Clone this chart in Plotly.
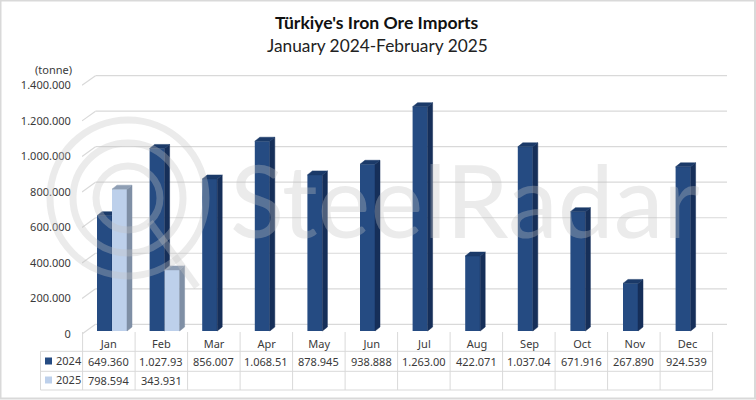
import plotly.graph_objects as go

# ---- data ----
months = ["Jan", "Feb", "Mar", "Apr", "May", "Jun", "Jul", "Aug", "Sep", "Oct", "Nov", "Dec"]
values_2024 = [649360, 1027930, 856007, 1068510, 878945, 938888, 1263000, 422071, 1037040, 671916, 267890, 924539]
values_2025 = [798594, 343931]
labels_2024 = ["649.360", "1.027.93", "856.007", "1.068.51", "878.945", "938.888", "1.263.00", "422.071", "1.037.04", "671.916", "267.890", "924.539"]
labels_2025 = ["798.594", "343.931"]
tick_values = [0, 200000, 400000, 600000, 800000, 1000000, 1200000, 1400000]
tick_labels = ["0", "200.000", "400.000", "600.000", "800.000", "1.000.000", "1.200.000", "1.400.000"]
title_main = "Türkiye's Iron Ore Imports"
title_sub = "January 2024-February 2025"
unit_label = "(tonne)"
watermark = "SteelRadar"

# ---- geometry / style ----
W, H = 756, 400
L, R, T, B = 82, 730, 60, 334          # plot rectangle in pixels
PX_X = 52.6                            # pixels per category
PX_Y = 177.6 / 1e6                     # pixels per tonne
X0 = -0.5 - 0.5 / PX_X
X1 = X0 + (R - L) / PX_X
Y1 = (B - T) / PX_Y
dx = lambda p: p / PX_X
dy = lambda p: p / PX_Y
BAR_W = dx(15)
BAR_OFF = dx(-11.8)
LIFT = dy(3)
WALL_X, WALL_Y = dx(13.5), dy(9.7)
WALL_END = X0 + (727 - L) / PX_X
DEPTH_X, DEPTH_Y = dx(5), dy(4)
GRID = "#D9D9D9"
TXT = "#3A3A3A"
FONT = "Noto Sans"
WM = "rgba(194,194,194,0.335)"
py = lambda v: (B - v) / (B - T)
pxx = lambda v: (v - L) / (R - L)


def add_bars(fig, name, values, start, front, side, top, xa, ya):
    sx, sy, tx, ty, xs = [], [], [], [], []
    for i, v in enumerate(values):
        a = i + BAR_OFF + start * BAR_W
        b = a + BAR_W
        xs.append(a + BAR_W / 2)
        sx += [b, b + DEPTH_X, b + DEPTH_X, b, b, None]
        sy += [v + LIFT, v + LIFT + DEPTH_Y, LIFT + DEPTH_Y, LIFT, v + LIFT, None]
        tx += [a, a + DEPTH_X, b + DEPTH_X, b, a, None]
        ty += [v + LIFT, v + LIFT + DEPTH_Y, v + LIFT + DEPTH_Y, v + LIFT, v + LIFT, None]
    for px_, py_, col in ((sx, sy, side), (tx, ty, top)):
        fig.add_trace(go.Scatter(x=px_, y=py_, mode="lines", fill="toself", fillcolor=col,
                                 line=dict(width=0.5, color=col, simplify=False), hoverinfo="skip",
                                 showlegend=False, xaxis=xa, yaxis=ya))
    fig.add_trace(go.Bar(x=xs, y=values, base=LIFT, width=BAR_W, name=name, xaxis=xa, yaxis=ya,
                         marker=dict(color=front, line=dict(width=0)), showlegend=False))


fig = go.Figure()
add_bars(fig, "2024", values_2024, 0, "#254B82", "#162F59", "#1B3A69", "x", "y")
add_bars(fig, "2025", values_2025, 1, "#BDD0EB", "#7F8FA5", "#8E9EB4", "x2", "y2")

shapes, annots = [], []

# back wall grid lines and floor/wall diagonals, from the tick values
for t in tick_values:
    for x0, y0, x1, y1 in ((X0, t, X0 + WALL_X, t + WALL_Y), (X0 + WALL_X, t + WALL_Y, WALL_END, t + WALL_Y)):
        shapes.append(dict(type="line", xref="x", yref="y", x0=x0, y0=y0, x1=x1, y1=y1,
                           line=dict(color=GRID, width=1.2), layer="below"))


def line(x0, y0, x1, y1):
    shapes.append(dict(type="line", xref="paper", yref="paper", x0=pxx(x0), x1=pxx(x1),
                       y0=py(y0), y1=py(y1), line=dict(color=GRID, width=1), layer="below"))


def text(x, y, s, size=11, anchor="center", color=TXT, family=FONT, **kw):
    annots.append(dict(xref="paper", yref="paper", x=pxx(x), y=py(y), text=s, showarrow=False,
                       xanchor=anchor, yanchor="middle",
                       font=dict(size=size, color=color, family=family, **kw)))


# data table under the plot
col_w = 52.5
left = 82.6
n = len(months)
for i in range(n + 1):
    line(left + i * col_w, 332, left + i * col_w, 390)
line(40.5, 351.3, 40.5, 390)
for y in (351.3, 371.3, 390):
    line(40.5, y, left + n * col_w, y)
for i, s in enumerate(labels_2024):
    text(left + (i + 0.5) * col_w, 361.3, s)
for i, s in enumerate(labels_2025):
    text(left + (i + 0.5) * col_w, 380.3, s)
text(54, 360.5, "2024", anchor="left")
text(54, 379.5, "2025", anchor="left")
for y, c in ((361, "#254B82"), (380, "#BDD0EB")):
    shapes.append(dict(type="rect", xref="paper", yref="paper", x0=pxx(45), x1=pxx(52),
                       y0=py(y - 3.5), y1=py(y + 3.5), fillcolor=c, line=dict(width=0)))

# titles and unit
text(377, 22, title_main, size=17.6, family="Lato", color="#111111", weight="bold")
text(377, 45, title_sub, size=17.3, family="Lato", color="#222222")
text(53.5, 70, unit_label, size=11)

# watermark
for cx, cy, r in ((128, 198, 78), (128, 198, 55), (128, 198, 32)):
    shapes.append(dict(type="circle", xref="paper", yref="paper", x0=pxx(cx - r), x1=pxx(cx + r),
                       y0=py(cy - r), y1=py(cy + r), line=dict(color=WM, width=7), layer="above"))
shapes.append(dict(type="line", xref="paper", yref="paper", x0=pxx(150), y0=py(222), x1=pxx(197), y1=py(287),
                   line=dict(color=WM, width=7), layer="above"))
text(465, 199, watermark, size=100, family="Lato", color=WM, weight=400)

# outer frame
shapes.append(dict(type="rect", xref="paper", yref="paper", x0=pxx(0.5), x1=pxx(755), y0=py(0.5), y1=py(398.5),
                   line=dict(color=GRID, width=2), layer="below"))

fig.update_layout(
    width=W, height=H, autosize=False,
    margin=dict(l=L, r=W - R, t=T, b=H - B, pad=0),
    paper_bgcolor="white", plot_bgcolor="rgba(0,0,0,0)",
    barmode="overlay", showlegend=False,
    xaxis=dict(range=[X0, X1], tickmode="array", tickvals=list(range(n)), ticktext=months,
               showgrid=False, zeroline=False, showline=False, ticks="outside", ticklen=0,
               tickfont=dict(family=FONT, size=11, color=TXT)),
    yaxis=dict(range=[0, Y1], tickmode="array", tickvals=tick_values, ticktext=tick_labels,
               showgrid=False, zeroline=False, showline=False, ticks="outside", ticklen=8,
               tickcolor="rgba(0,0,0,0)", tickfont=dict(family=FONT, size=11, color=TXT)),
    xaxis2=dict(range=[X0, X1], overlaying="x", visible=False),
    yaxis2=dict(range=[0, Y1], overlaying="y", visible=False),
    shapes=shapes, annotations=annots,
)
fig.write_html("out.html", config=dict(displayModeBar=False),
               post_script="document.body.style.margin='0';")
